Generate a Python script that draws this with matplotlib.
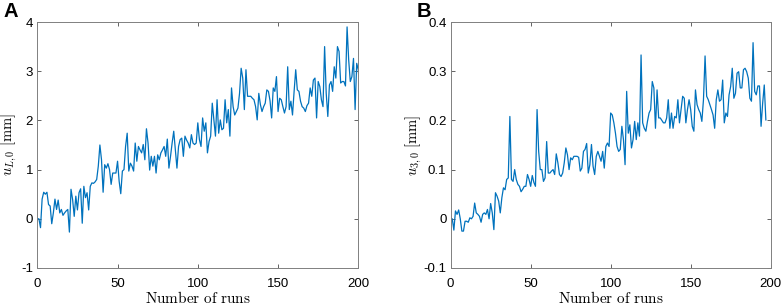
import numpy as np
import matplotlib
matplotlib.use('Agg')
import matplotlib.pyplot as plt
from matplotlib.ticker import FormatStrFormatter

# readings from the reference picture
u_L0 = [0.0, 0.0, -0.18, 0.4, 0.54, 0.5, 0.54, 0.29, 0.26, -0.1,
        0.12, 0.4, 0.19, 0.38, 0.12, 0.19, 0.07, 0.12, 0.16, 0.19, -0.27,
        0.6, 0.39, 0.05, 0.46, 0.18, 0.53, 0.61, -0.09, 0.66, 0.43,
        0.53, 0.18, 0.66, 0.73, 0.72, 0.75, 0.8, 1.07, 1.5, 1.2, 0.54,
        1.1, 1.03, 1.12, 1.0, 0.7, 0.93, 0.93, 0.93, 1.17, 0.76,
        0.51, 0.97, 1.0, 1.47, 1.74, 0.97, 1.13, 1.07, 0.97, 1.54,
        1.17, 1.47, 1.4, 1.34, 1.51, 1.2, 1.83, 1.54, 0.99, 1.27, 1.07,
        1.27, 0.93, 1.3, 1.2, 1.34, 1.4, 1.47, 1.27, 1.62, 1.03,
        1.27, 1.54, 1.78, 1.4, 1.03, 1.47, 1.61, 1.64, 1.27, 1.68, 1.6,
        1.54, 1.44, 1.71, 1.54, 1.51, 1.54, 1.95, 1.61, 1.47, 2.05,
        1.78, 1.95, 1.34, 1.57, 1.68, 2.35, 2.01, 1.68, 2.42, 1.74,
        2.01, 1.81, 1.84, 2.42, 1.95, 2.22, 1.68, 2.66, 2.28, 2.11,
        2.18, 2.25, 2.55, 3.06, 2.86, 2.22, 3.03, 2.49, 2.49, 2.49, 2.45,
        2.42, 2.28, 2.01, 2.55, 2.32, 2.18, 2.28, 2.35, 2.62, 2.59, 2.4,
        2.05, 2.66, 2.59, 2.89, 2.18, 2.45, 2.42, 2.28, 2.15, 2.28,
        3.09, 2.22, 2.39, 2.11, 2.59, 3.03, 2.62, 2.59, 2.39, 2.28,
        2.25, 2.18, 2.3, 2.35, 2.66, 2.49, 2.82, 2.86, 2.05, 2.79, 2.69,
        2.42, 2.28, 3.5, 2.55, 2.08, 2.72, 2.79, 2.59, 3.09, 2.86,
        3.5, 3.4, 2.76, 2.79, 2.79, 2.7, 3.9, 3.23, 2.79, 2.89, 3.26,
        2.22, 3.16, 3.03, 2.49]

u_30 = [0.0, 0.0, -0.023, 0.016, 0.009, 0.018, 0.0, -0.025, -0.025, -0.005,
        -0.005, -0.007, 0.002, 0.0, 0.005, 0.032, 0.012, 0.009, 0.005, -0.007,
        0.009, 0.012, 0.009, 0.019, 0.0, 0.031, 0.012, -0.022, 0.053, 0.046,
        0.036, 0.012, 0.043, 0.063, 0.059, 0.08, 0.083, 0.208, 0.08, 0.076,
        0.1, 0.08, 0.07, 0.066, 0.055, 0.06, 0.066, 0.066, 0.09, 0.08, 0.066,
        0.088, 0.074, 0.066, 0.222, 0.137, 0.1, 0.1, 0.076, 0.083,
        0.157, 0.093, 0.093, 0.097, 0.1, 0.09, 0.132, 0.114, 0.09, 0.086,
        0.093, 0.114, 0.144, 0.13, 0.1, 0.124, 0.12, 0.127, 0.127, 0.127, 0.125,
        0.097, 0.103, 0.137, 0.141, 0.153, 0.093, 0.11, 0.151, 0.107, 0.09,
        0.127, 0.137,
        0.127, 0.117, 0.137, 0.103, 0.147, 0.154, 0.147, 0.215, 0.211, 0.195,
        0.174, 0.147, 0.137, 0.141, 0.188, 0.161, 0.11, 0.259, 0.174, 0.191,
        0.144, 0.161, 0.198, 0.161, 0.195, 0.168, 0.333, 0.195, 0.184, 0.178,
        0.198, 0.215, 0.222, 0.279, 0.266, 0.184, 0.262, 0.205, 0.205, 0.2,
        0.195, 0.195, 0.205, 0.242, 0.184, 0.215, 0.184, 0.208, 0.205, 0.242,
        0.195, 0.222, 0.249, 0.245, 0.195, 0.222, 0.242, 0.222, 0.188, 0.178,
        0.262, 0.232, 0.222, 0.215, 0.198, 0.242, 0.331, 0.249, 0.242, 0.232,
        0.222, 0.211, 0.184, 0.242, 0.262, 0.239, 0.242, 0.282, 0.195, 0.215,
        0.208, 0.252, 0.269, 0.306, 0.245, 0.255, 0.296, 0.299, 0.266, 0.266,
        0.303, 0.306, 0.299, 0.286, 0.245, 0.239, 0.358, 0.259, 0.252, 0.27,
        0.27, 0.188, 0.235, 0.272, 0.201]

runs_L = np.arange(len(u_L0))
runs_3 = np.arange(len(u_30))

plt.rcParams['mathtext.fontset'] = 'cm'
plt.rcParams['axes.unicode_minus'] = False
plt.rcParams['font.family'] = ['Liberation Sans', 'DejaVu Sans']

fig = plt.figure(figsize=(7.82, 3.06), dpi=100)
ax1 = fig.add_axes([0.0477, 0.1242, 0.4105, 0.8039])
ax2 = fig.add_axes([0.5763, 0.1242, 0.4092, 0.8039])

blue = '#0072BD'
ax1.plot(runs_L, u_L0, color=blue, lw=0.9)
ax2.plot(runs_3, u_30, color=blue, lw=0.9)

ax1.set_ylim(-1, 4)
ax1.set_yticks([-1, 0, 1, 2, 3, 4])
ax2.set_ylim(-0.1, 0.4)
ax2.set_yticks([-0.1, 0, 0.1, 0.2, 0.3, 0.4])
ax2.yaxis.set_major_formatter(FormatStrFormatter('%g'))

for ax in [ax1, ax2]:
    ax.set_xlim(0, 200)
    ax.set_xticks([0, 50, 100, 150, 200])
    ax.tick_params(direction='in', top=True, right=True, labelsize=9.5,
                   length=3, width=0.5, color='0.15')
    ax.tick_params(axis='x', pad=7)
    ax.tick_params(axis='y', pad=3)
    for s in ax.spines.values():
        s.set_color('0.5')
        s.set_linewidth(0.7)
    ax.set_xlabel(r'$\mathrm{Number\ of\ runs}$', fontsize=11, labelpad=0)

ax1.set_ylabel(r'$u_{L,0}\ [\mathrm{mm}]$', fontsize=10.5)
ax2.set_ylabel(r'$u_{3,0}\ [\mathrm{mm}]$', fontsize=10.5)
ax1.yaxis.set_label_coords(-0.057, 0.5)
ax2.yaxis.set_label_coords(-0.082, 0.5)

fig.text(0.004, 0.995, 'A', fontsize=14.5, fontweight='bold', va='top')
fig.text(0.533, 0.995, 'B', fontsize=14.5, fontweight='bold', va='top')

fig.savefig('out.png', dpi=100)
